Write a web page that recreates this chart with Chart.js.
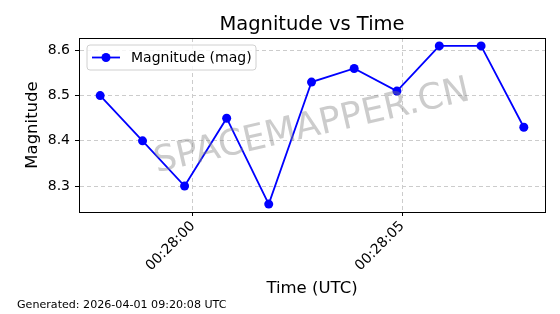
<!DOCTYPE html>
<html>
<head>
<meta charset="utf-8">
<script src="https://cdn.jsdelivr.net/npm/chart.js@4"></script>
<style>
  html, body { margin: 0; padding: 0; background: #fff; }
  #wrap { width: 560px; height: 314px; }
</style>
</head>
<body>
<div id="wrap"><canvas id="myChart" width="560" height="314"></canvas></div>
<script>
// values
const times = ['00:27:57.785', '00:27:58.797', '00:27:59.801', '00:28:00.806', '00:28:01.811',
               '00:28:02.833', '00:28:03.852', '00:28:04.873', '00:28:05.885', '00:28:06.883', '00:28:07.904'];
const magnitudes = [8.50, 8.40, 8.30, 8.45, 8.26, 8.53, 8.56, 8.51, 8.61, 8.61, 8.43];
const xTickLabels = ['00:28:00', '00:28:05'];
const yTicks = [8.3, 8.4, 8.5, 8.6];
const seriesLabel = 'Magnitude (mag)';
const footerText = 'Generated: 2026-04-01 09:20:08 UTC';
const watermark = 'SPACEMAPPER.CN';

function toSec(s) {
    let p = s.split(':');
    return Number(p[0]) * 3600 + Number(p[1]) * 60 + Number(p[2]);
}
function fmt(v) {
    let h = Math.floor(v / 3600), m = Math.floor((v % 3600) / 60), s = Math.round(v % 60);
    return [h, m, s].map(n => String(n).padStart(2, '0')).join(':');
}

let points = times.map((t, i) => ({x: toSec(t), y: magnitudes[i]}));
let xs = points.map(p => p.x);
let xMin = Math.min(...xs), xMax = Math.max(...xs);
let xPad = (xMax - xMin) * 0.05;
let yMin = Math.min(...magnitudes), yMax = Math.max(...magnitudes);
let yPad = (yMax - yMin) * 0.05;

const FONT = "'DejaVu Sans', sans-serif";
Chart.defaults.font.family = FONT;
Chart.defaults.color = '#000';

const extras = {
    id: 'extras',
    afterDatasetsDraw(chart) {
        const ctx = chart.ctx;
        const a = chart.chartArea;
        // watermark
        ctx.save();
        ctx.translate(312, 127);
        ctx.rotate(-13 * Math.PI / 180);
        ctx.font = '36px ' + FONT;
        ctx.fillStyle = 'rgba(128,128,128,0.4)';
        ctx.textAlign = 'center';
        ctx.textBaseline = 'middle';
        ctx.fillText(watermark, 0, 0);
        ctx.restore();

        // axes frame
        ctx.save();
        ctx.strokeStyle = '#000';
        ctx.lineWidth = 1;
        ctx.strokeRect(Math.round(a.left) + 0.5, Math.round(a.top) + 0.5,
                       Math.round(a.right - a.left), Math.round(a.bottom - a.top));
        ctx.restore();

        // legend
        const lx = a.left + 8, ly = a.top + 7, lw = 169, lh = 25;
        ctx.save();
        ctx.beginPath();
        ctx.roundRect(lx, ly, lw, lh, 3);
        ctx.fillStyle = 'rgba(255,255,255,0.8)';
        ctx.fill();
        ctx.strokeStyle = '#d0d0d0';
        ctx.lineWidth = 1;
        ctx.stroke();
        const cy = ly + lh / 2;
        ctx.strokeStyle = '#0000ff';
        ctx.lineWidth = 1.8;
        ctx.beginPath();
        ctx.moveTo(lx + 5, cy);
        ctx.lineTo(lx + 33, cy);
        ctx.stroke();
        ctx.fillStyle = '#0000ff';
        ctx.beginPath();
        ctx.arc(lx + 19, cy, 4.5, 0, Math.PI * 2);
        ctx.fill();
        ctx.fillStyle = '#000';
        ctx.font = '14px ' + FONT;
        ctx.textBaseline = 'middle';
        ctx.fillText(seriesLabel, lx + 44, cy + 1);
        ctx.restore();

        // footer
        ctx.save();
        ctx.fillStyle = '#000';
        ctx.font = '11.1px ' + FONT;
        ctx.textBaseline = 'middle';
        ctx.fillText(footerText, 17, 305);
        ctx.restore();
    }
};

new Chart('myChart', {
    type: 'line',
    data: {
        datasets: [{
            label: seriesLabel,
            data: points,
            borderColor: '#0000ff',
            backgroundColor: '#0000ff',
            borderWidth: 1.8,
            pointRadius: 4.5,
            pointHoverRadius: 4.5,
            pointBorderWidth: 0,
            fill: false,
            tension: 0
        }]
    },
    options: {
        responsive: false,
        animation: false,
        events: [],
        layout: {padding: {left: 0, right: 15, top: 0, bottom: 0}},
        plugins: {
            legend: {display: false},
            tooltip: {enabled: false},
            title: {
                display: true,
                fullSize: false,
                text: 'Magnitude vs Time',
                color: '#000',
                font: {size: 19.5, weight: 'normal'},
                padding: {top: 12.8, bottom: 1.8}
            }
        },
        scales: {
            x: {
                type: 'linear',
                min: xMin - xPad,
                max: xMax + xPad,
                afterBuildTicks(scale) {
                    scale.ticks = xTickLabels.map(t => ({value: toSec(t)}));
                },
                afterFit(scale) { scale.height = 102; },
                ticks: {
                    callback: v => fmt(v),
                    maxRotation: 45,
                    minRotation: 45,
                    autoSkip: false,
                    padding: 2,
                    font: {size: 14}
                },
                grid: {color: '#cccccc', lineWidth: 1, tickLength: 4, tickColor: '#000', tickBorderDash: []},
                border: {display: true, color: '#000', width: 1, dash: [4, 3]},
                title: {display: true, text: 'Time (UTC)', font: {size: 16.5}, padding: {top: 0, bottom: 15}}
            },
            y: {
                min: yMin - yPad,
                max: yMax + yPad,
                afterBuildTicks(scale) {
                    scale.ticks = yTicks.map(v => ({value: v}));
                },
                afterFit(scale) { scale.width = 79; },
                ticks: {
                    callback: v => v.toFixed(1),
                    padding: 5,
                    font: {size: 14}
                },
                grid: {color: '#cccccc', lineWidth: 1, tickLength: 4, tickColor: '#000', tickBorderDash: []},
                border: {display: true, color: '#000', width: 1, dash: [4, 3]},
                title: {display: true, text: 'Magnitude', font: {size: 16.5}, padding: {top: 23, bottom: 0}}
            }
        }
    },
    plugins: [extras]
});
</script>
</body>
</html>
